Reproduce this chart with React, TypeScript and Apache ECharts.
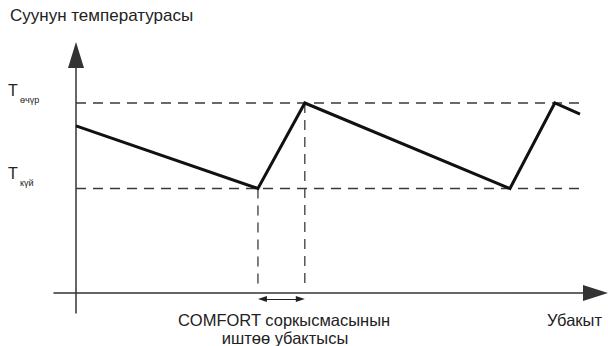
import React, { useEffect, useRef } from "react";
import * as echarts from "echarts";

// ---- data (time units on x, temperature units on y) ----
const curveTime = [0, 36.1, 45.4, 86.1, 95.0, 100];
const curveTemp = [88, 55, 100, 55, 100, 94.2];
const T_OFF = 100; // Tөчүр level
const T_ON = 55; // Tкүй level
const comfortStart = 36.1;
const comfortEnd = 45.4;
const guideBottom = 4.7;
const arrowLevel = -3.2;
const timeSpan = [0, 100];

const titleText = "Суунун температурасы";
const timeText = "Убакыт";
const comfortLines = ["COMFORT соркысмасынын", "иштөө убактысы"];
const tOffSub = "өчүр";
const tOnSub = "күй";

// ---- layout ----
const W = 608;
const H = 346;
const FONT = "'Liberation Sans', Arial, sans-serif";
const X0PX = 76; // pixel of x = 0
const X100PX = 580; // pixel of x = 100
const Y0PX = 293; // pixel of y = 0
const Y100PX = 103; // pixel of y = 100
const gridL = 54;
const gridR = 595.5;
const gridT = 55;
const gridB = 313;
const pxPerX = (X100PX - X0PX) / 100;
const pxPerY = (Y0PX - Y100PX) / 100;
const xMin = (gridL - X0PX) / pxPerX;
const xMax = (gridR - X0PX) / pxPerX;
const yMin = -(gridB - Y0PX) / pxPerY;
const yMax = (Y0PX - gridT) / pxPerY;
const arrowLen = 9;
const arrowHalfX = arrowLen / 2 / pxPerX;

export default function App() {
  const ref = useRef<HTMLDivElement>(null);
  useEffect(() => {
    if (!ref.current) return;
    const chart = echarts.init(ref.current, null, { renderer: "svg" });
    const dashStyle = { color: "#3a3a3a", width: 1.3, type: [10, 7] as any };
    const dashSeries = (data: number[][]) => ({
      type: "line",
      data,
      symbol: "none",
      silent: true,
      lineStyle: dashStyle,
      z: 1,
    });
    chart.setOption({
      animation: false,
      grid: {
        left: gridL,
        right: W - gridR,
        top: gridT,
        bottom: H - gridB,
      },
      xAxis: {
        type: "value",
        min: xMin,
        max: xMax,
        axisLine: {
          show: true,
          onZero: true,
          symbol: ["none", "triangle"],
          symbolSize: [16, 25],
          lineStyle: { color: "#333", width: 1.5 },
        },
        axisTick: { show: false },
        axisLabel: { show: false },
        splitLine: { show: false },
      },
      yAxis: {
        type: "value",
        min: yMin,
        max: yMax,
        axisLine: {
          show: true,
          onZero: true,
          symbol: ["none", "triangle"],
          symbolSize: [16, 26],
          lineStyle: { color: "#333", width: 1.5 },
        },
        axisTick: { show: false },
        axisLabel: { show: false },
        splitLine: { show: false },
      },
      series: [
        dashSeries([
          [timeSpan[0], T_OFF],
          [timeSpan[1], T_OFF],
        ]),
        dashSeries([
          [timeSpan[0], T_ON],
          [timeSpan[1], T_ON],
        ]),
        dashSeries([
          [comfortStart, T_ON],
          [comfortStart, guideBottom],
        ]),
        dashSeries([
          [comfortEnd, T_OFF],
          [comfortEnd, guideBottom],
        ]),
        {
          type: "line",
          data: curveTime.map((t, i) => [t, curveTemp[i]]),
          symbol: "none",
          silent: true,
          lineStyle: { color: "#111", width: 3, join: "miter" },
          z: 3,
          markLine: {
            silent: true,
            symbol: ["triangle", "triangle"],
            symbolSize: [6, arrowLen],
            label: { show: false },
            lineStyle: { color: "#222", width: 1, type: "solid" },
            emphasis: { disabled: true },
            data: [
              [
                { coord: [comfortStart + arrowHalfX, arrowLevel] },
                { coord: [comfortEnd - arrowHalfX, arrowLevel] },
              ],
            ],
          },
        },
      ],
      graphic: [
        {
          type: "text",
          x: 10,
          y: 15,
          style: { text: titleText, font: `17px ${FONT}`, fill: "#222", verticalAlign: "middle" },
        },
        {
          type: "text",
          x: 8,
          y: 90.5,
          style: { text: "T", font: `16px ${FONT}`, fill: "#222", verticalAlign: "middle" },
        },
        {
          type: "text",
          x: 20,
          y: 100,
          style: { text: tOffSub, font: `9px ${FONT}`, fill: "#222", verticalAlign: "middle" },
        },
        {
          type: "text",
          x: 8,
          y: 173.5,
          style: { text: "T", font: `16px ${FONT}`, fill: "#222", verticalAlign: "middle" },
        },
        {
          type: "text",
          x: 20,
          y: 183,
          style: { text: tOnSub, font: `9px ${FONT}`, fill: "#222", verticalAlign: "middle" },
        },
        {
          type: "text",
          x: 284,
          y: 320,
          style: {
            text: comfortLines[0],
            font: `16.5px ${FONT}`,
            fill: "#222",
            align: "center",
            verticalAlign: "middle",
          },
        },
        {
          type: "text",
          x: 285,
          y: 337.5,
          style: {
            text: comfortLines[1],
            font: `16.5px ${FONT}`,
            fill: "#222",
            align: "center",
            verticalAlign: "middle",
          },
        },
        {
          type: "text",
          x: 602,
          y: 319.5,
          style: {
            text: timeText,
            font: `16.5px ${FONT}`,
            fill: "#222",
            align: "right",
            verticalAlign: "middle",
          },
        },
      ],
    });
    return () => chart.dispose();
  }, []);
  return (
    <div
      ref={ref}
      style={{ position: "absolute", left: 0, top: 0, width: W, height: H }}
    />
  );
}
